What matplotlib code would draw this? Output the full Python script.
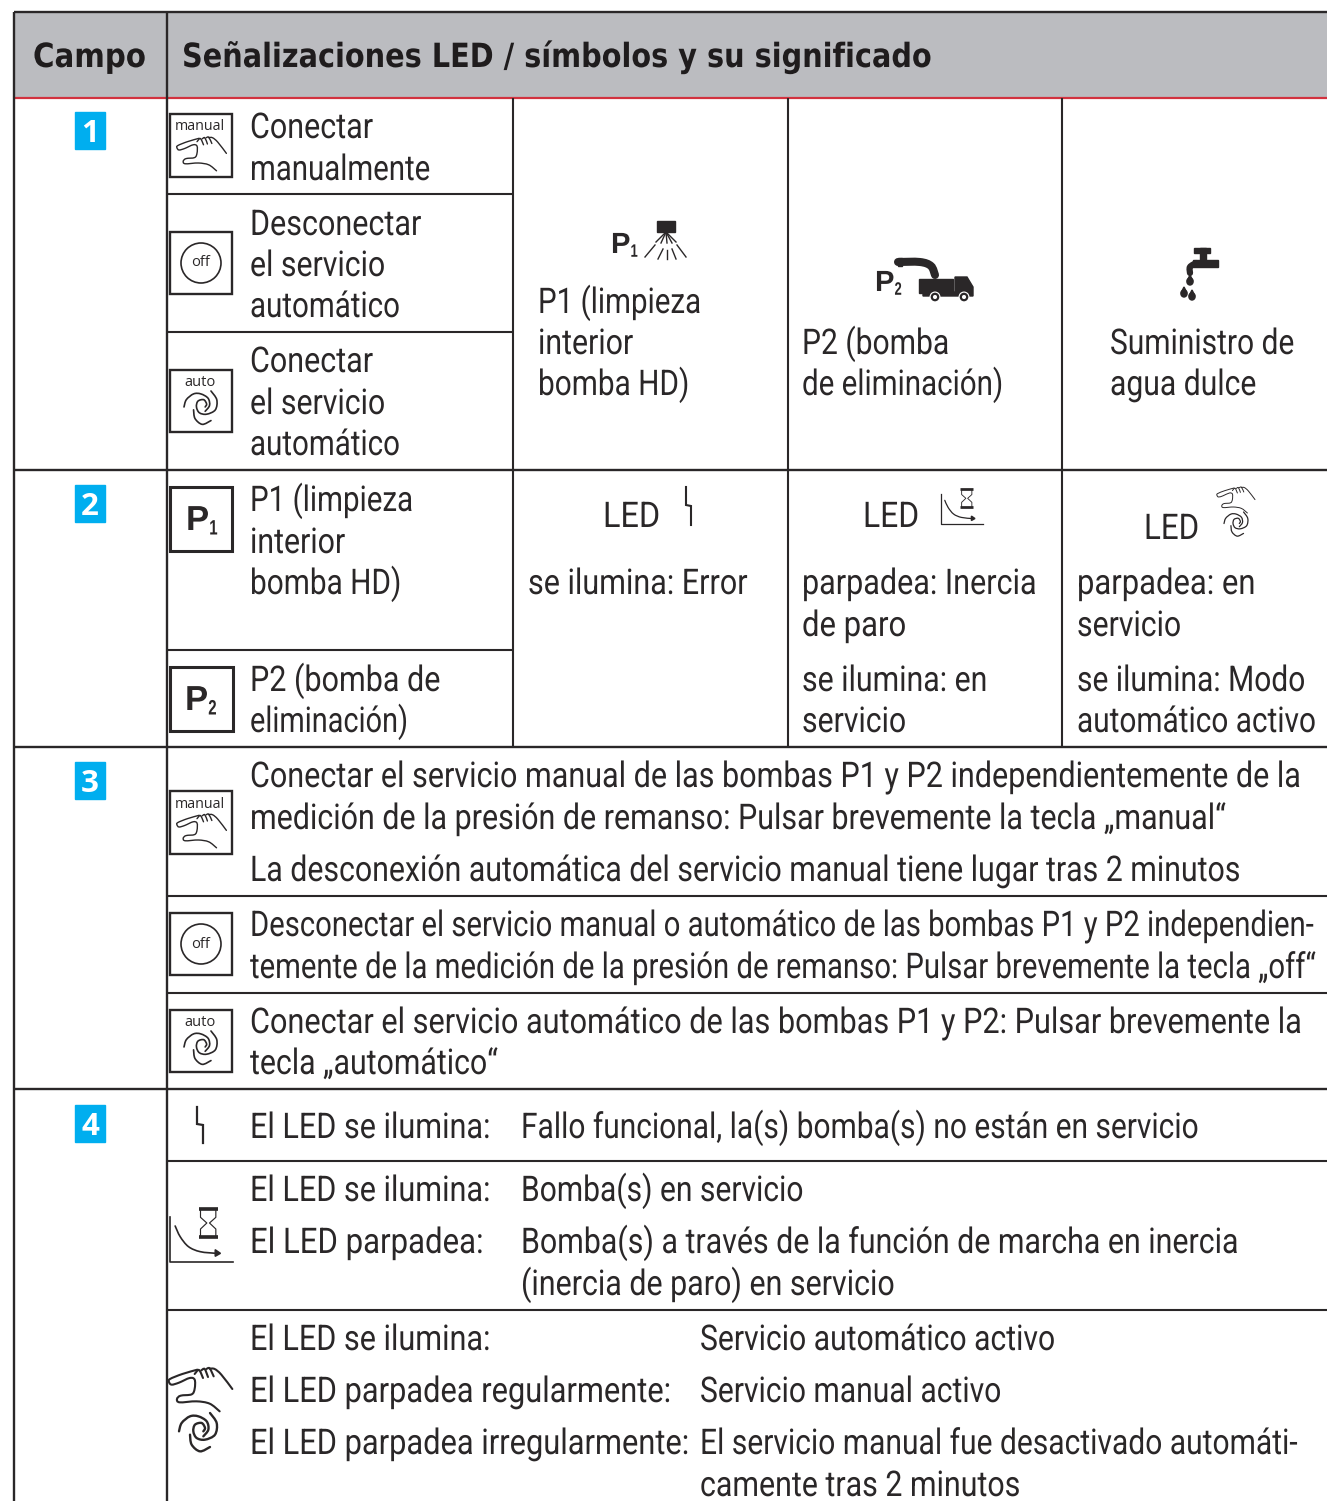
import matplotlib
matplotlib.use("Agg")
import matplotlib.pyplot as plt
import matplotlib.patheffects as pe
from matplotlib.patches import Rectangle, Circle, Ellipse, PathPatch, Polygon
from matplotlib.path import Path
from matplotlib.text import Text
from matplotlib.transforms import Affine2D, Bbox

# text of the table
header_labels = ["Campo", "Señalizaciones LED / símbolos y su significado"]
campo_labels = ["1", "2", "3", "4"]
row1_a = ["Conectar", "manualmente"]
row1_b = ["Desconectar", "el servicio", "automático"]
row1_c = ["Conectar", "el servicio", "automático"]
row1_p1 = ["P1 (limpieza", "interior", "bomba HD)"]
row1_p2 = ["P2 (bomba", "de eliminación)"]
row1_agua = ["Suministro de", "agua dulce"]
row2_p1 = ["P1 (limpieza", "interior", "bomba HD)"]
row2_p2 = ["P2 (bomba de", "eliminación)"]
row2_err = ["se ilumina: Error"]
row2_mid = ["parpadea: Inercia", "de paro", "se ilumina: en", "servicio"]
row2_right = ["parpadea: en", "servicio", "se ilumina: Modo", "automático activo"]
row3_a = ["Conectar el servicio manual de las bombas P1 y P2 independientemente de la",
          "medición de la presión de remanso: Pulsar brevemente la tecla „manual“",
          "La desconexión automática del servicio manual tiene lugar tras 2 minutos"]
row3_b = ["Desconectar el servicio manual o automático de las bombas P1 y P2 independien-",
          "temente de la medición de la presión de remanso: Pulsar brevemente la tecla „off“"]
row3_c = ["Conectar el servicio automático de las bombas P1 y P2: Pulsar brevemente la",
          "tecla „automático“"]
row4_left = ["El LED se ilumina:", "El LED se ilumina:", "El LED parpadea:"]
row4_right = ["Fallo funcional, la(s) bomba(s) no están en servicio", "Bomba(s) en servicio",
              "Bomba(s) a través de la función de marcha en inercia",
              "(inercia de paro) en servicio"]
row4_left2 = ["El LED se ilumina:", "El LED parpadea regularmente:", "El LED parpadea irregularmente:"]
row4_right2 = ["Servicio automático activo", "Servicio manual activo",
               "El servicio manual fue desactivado automáti-", "camente tras 2 minutos"]

INK = "#2a2728"
FS = 25.5

fig = plt.figure(figsize=(13.27, 15.01), dpi=100)
ax = fig.add_axes([0, 0, 1, 1])
ax.set_xlim(0, 1327)
ax.set_ylim(1501, 0)
ax.axis("off")
rend = fig.canvas.get_renderer()


# no condensed font installed: squeeze real text sideways when it is drawn
class Squeeze(pe.AbstractPathEffect):
    def __init__(self, fx):
        super().__init__()
        self.fx = fx

    def draw_path(self, renderer, gc, tpath, affine, rgbFace=None):
        renderer.draw_path(gc, tpath, Affine2D().scale(self.fx, 1) + affine, rgbFace)


class SqueezedText(Text):
    fx = 1.0

    def squeeze(self, fx):
        self.fx = fx
        self.set_path_effects([Squeeze(fx)])

    def get_window_extent(self, renderer=None, dpi=None):
        bb = super().get_window_extent(renderer, dpi)
        return Bbox.from_extents(bb.x0, bb.y0, bb.x0 + bb.width * self.fx, bb.y1)


def put(x, y, s, fx=None, right=None, **kw):
    t = SqueezedText(x, y, s, va="baseline", ha="left", **kw)
    ax.add_artist(t)
    if right is not None:
        fx = (right - x) / t.get_window_extent(rend).width
    t.squeeze(fx)


def hline(y, x0, x1=1327, lw=1.5, color=INK):
    ax.plot([x0, x1], [y, y], color=color, lw=lw, solid_capstyle="butt", zorder=3)


def vline(x, y0, y1, lw=1.5):
    ax.plot([x, x], [y0, y1], color=INK, lw=lw, solid_capstyle="butt", zorder=3)


def lines(x, ys, labels, rights):
    for y, s, r in zip(ys, labels, rights):
        put(x - 1, y + 1, s, right=r, family="Roboto", fontsize=FS, color=INK)


def smooth(pts):
    # catmull-rom through the points, as bezier segments
    verts = [pts[0]]
    codes = [Path.MOVETO]
    for i in range(len(pts) - 1):
        p0 = pts[max(i - 1, 0)]
        p1 = pts[i]
        p2 = pts[i + 1]
        p3 = pts[min(i + 2, len(pts) - 1)]
        c1 = (p1[0] + (p2[0] - p0[0]) / 6, p1[1] + (p2[1] - p0[1]) / 6)
        c2 = (p2[0] - (p3[0] - p1[0]) / 6, p2[1] - (p3[1] - p1[1]) / 6)
        verts += [c1, c2, p2]
        codes += [Path.CURVE4] * 3
    return Path(verts, codes)


def curve(pts, x0, y0, sx, sy, lw):
    q = [(x0 + a * sx, y0 + b * sy) for a, b in pts]
    ax.add_patch(PathPatch(smooth(q), fill=False, ec=INK, lw=lw, capstyle="round", zorder=4))


HAND = [
    [(190, 63), (157, 20), (137, 3), (122, 2)],
    [(85, 5), (40, 18), (3, 33), (0, 42), (8, 50), (30, 44), (62, 30), (77, 35), (77, 62),
     (68, 79), (35, 83), (24, 93), (32, 103), (82, 100), (122, 107), (152, 130)],
    [(77, 18), (90, 6), (102, 30)],
    [(97, 7), (107, 3), (117, 27)],
    [(112, 3), (122, 1), (134, 25)],
]
SWIRL = [
    [(0, 55), (8, 30), (33, 10), (58, 10), (83, 25), (88, 50), (73, 70)],
    [(93, 0), (113, 30), (108, 65), (78, 80), (53, 75), (43, 55), (48, 35), (68, 30), (78, 45), (73, 55)],
    [(93, 102), (63, 115), (38, 95), (33, 65)],
]


def hand(x0, y0, s, lw=1.1):
    for seg in HAND:
        curve(seg, x0, y0, s, s, lw)


def swirl(x0, y0, s, lw=1.3):
    for seg in SWIRL:
        curve(seg, x0, y0, s, s, lw)


def box(x0, y0, x1, y1, lw=1.7):
    ax.add_patch(Rectangle((x0, y0), x1 - x0, y1 - y0, fill=False, ec=INK, lw=lw, zorder=4))


def manual_icon(y):
    box(170, y, 232, y + 63)
    ax.text(200, y + 13, "manual", family="Open Sans", fontsize=10.3, color=INK, ha="center", va="center")
    hand(177, y + 23, 0.26, 1.0)


def off_icon(y):
    box(170, y, 232, y + 62)
    ax.add_patch(Circle((201, y + 31), 20, fill=False, ec=INK, lw=1.2, zorder=4))
    ax.text(201, y + 31, "off", family="Open Sans", fontsize=10.5, color=INK, ha="center", va="center")


def auto_icon(y):
    box(170, y, 232, y + 62)
    ax.text(200, y + 13, "auto", family="Open Sans", fontsize=10.5, color=INK, ha="center", va="center")
    swirl(184, y + 21, 0.29, 1.2)


def p_label(x, y, sub, fs, sub_fs):
    put(x, y, "P", 1.0, family="Liberation Sans", weight="bold", fontsize=fs, color=INK)
    put(x + fs * 0.93, y + fs * 0.18, sub, 0.72, family="Liberation Sans", weight="bold",
        fontsize=sub_fs, color=INK)


def bolt(x0, x1, y0, y1, y2, lw=1.5):
    ax.plot([x0, x0, x1, x1], [y0, y1, y1 + 1, y2], color=INK, lw=lw, solid_joinstyle="miter", zorder=4)


def timer(x0, y0, s, lw=1.2):
    pt = lambda a, b: (x0 + a * s, y0 + b * s)
    ax.plot(*zip(pt(0, 23), pt(0, 159), pt(190, 159)), color=INK, lw=lw, zorder=4)
    curve([(17, 51), (32, 83), (57, 113), (92, 128), (140, 133)], x0, y0, s, s, lw)
    ax.add_patch(Polygon([pt(137, 122), pt(153, 133), pt(137, 142)], color=INK, zorder=4))
    ax.plot(*zip(pt(87, 0), pt(145, 0)), color=INK, lw=lw * 2.2, solid_capstyle="butt", zorder=4)
    ax.plot(*zip(pt(87, 83), pt(145, 83)), color=INK, lw=lw * 2.2, solid_capstyle="butt", zorder=4)
    ax.plot(*zip(pt(93, 3), pt(93, 25), pt(112, 42), pt(93, 60), pt(93, 80)), color=INK, lw=lw * 0.7, zorder=4)
    ax.plot(*zip(pt(139, 3), pt(139, 25), pt(120, 42), pt(139, 60), pt(139, 80)), color=INK, lw=lw * 0.7, zorder=4)


def drop(x, y, h):
    ax.add_patch(Ellipse((x, y + h * 0.65), h * 0.62, h * 0.7, color=INK, zorder=4))
    ax.add_patch(Polygon([(x, y), (x - h * 0.28, y + h * 0.55), (x + h * 0.28, y + h * 0.55)], color=INK, zorder=4))


# header band and red rule
ax.add_patch(Rectangle((14, 12), 1313, 85, color="#bbbcc0", zorder=1))
hline(12, 14, lw=1.7)
hline(97.5, 14, lw=1.6, color="#d2323f")
put(33, 67, header_labels[0], right=146, family="DejaVu Sans", weight="bold", fontsize=24, color="#1f1c1d")
put(182, 67, header_labels[1], right=932, family="DejaVu Sans", weight="bold", fontsize=24, color="#1f1c1d")

# grid
vline(14, 12, 1501, 1.7)
vline(167, 12, 1501, 1.7)
for x in [513, 788, 1062]:
    vline(x, 98, 747)
for y in [194, 332, 650]:
    hline(y, 167, 513)
for y in [470, 747, 1089]:
    hline(y, 14, lw=1.7)
for y in [896, 993, 1161, 1310]:
    hline(y, 167)

# campo squares
for y, s in zip([112, 485, 762, 1105], campo_labels):
    ax.add_patch(Rectangle((75, y), 30, 37, color="#00aeef", zorder=2))
    ax.text(90, y + 30, s, family="Open Sans", weight="bold", fontsize=22.5, color="white",
            ha="center", va="baseline", zorder=3)

# campo 1
manual_icon(114)
off_icon(232)
auto_icon(370)
lines(251, [137, 179], row1_a, [373, 430])
lines(251, [234, 275, 316], row1_b, [421, 385, 400])
lines(251, [371, 413, 454], row1_c, [373, 385, 400])
lines(539, [312, 353, 394], row1_p1, [701, 633, 689])
lines(803, [353, 394], row1_p2, [949, 1003])
lines(1111, [353, 394], row1_agua, [1294, 1256])

p_label(611, 253, "1", 21, 13)
ax.add_patch(Rectangle((657, 221), 18, 11, color=INK, zorder=4))
for xa, ya, xb, yb in [(666, 232, 656, 242), (666, 232, 661, 243), (666, 232, 667, 243),
                       (666, 232, 672, 243), (666, 232, 676, 242), (645, 257, 655, 245),
                       (658, 259, 663, 249), (667, 259, 667, 250), (676, 259, 672, 249),
                       (686, 257, 677, 245)]:
    ax.plot([xa, xb], [ya, yb], color=INK, lw=1.0, zorder=4)

p_label(875, 291, "2", 21, 13)
curve([(898, 262), (920, 262), (931, 266), (935, 275)], 0, 0, 1, 1, 5.8)
ax.add_patch(Rectangle((898, 258), 4, 8, color=INK, zorder=4))
ax.add_patch(Rectangle((919, 279), 34, 14, color=INK, zorder=4))
ax.add_patch(Polygon([(955, 277), (967, 277), (973, 287), (973, 296), (923, 296), (923, 292), (955, 292)],
                     color=INK, zorder=4))
for x in [935, 964]:
    ax.add_patch(Circle((x, 297), 5.5, fc="white", ec="none", zorder=5))
    ax.add_patch(Circle((x, 297), 3.2, fc="white", ec=INK, lw=1.6, zorder=6))

ax.add_patch(Rectangle((1194, 248), 16, 4.5, color=INK, zorder=4))
ax.add_patch(Rectangle((1200, 248), 6, 14, color=INK, zorder=4))
ax.add_patch(Rectangle((1193, 260), 25, 6.5, color=INK, zorder=4))
curve([(1190, 273), (1190, 267), (1196, 263)], 0, 0, 1, 1, 4.5)
drop(1190, 275, 10)
drop(1184, 287, 10)
drop(1192, 290, 10)

# campo 2
box(170, 487, 232, 551, 2.2)
box(170, 667, 233, 731, 2.2)
p_label(186, 530, "1", 25, 15)
p_label(185, 710, "2", 25, 15)
lines(251, [510, 552, 593], row2_p1, [413, 345, 401])
lines(251, [690, 731], row2_p2, [440, 408])
lines(604, [526], ["LED"], [660])
lines(864, [526], ["LED"], [919])
lines(1145, [538], ["LED"], [1199])
bolt(686, 691, 487, 505, 525)
timer(941, 489, 0.222, 0.9)
hand(1217, 487, 0.2, 0.7)
swirl(1224, 512, 0.21, 0.9)
lines(529, [593], row2_err, [747])
lines(803, [593, 635, 690, 731], row2_mid, [1036, 906, 987, 906])
lines(1078, [593, 635, 690, 731], row2_right, [1255, 1181, 1305, 1316])

# campo 3
manual_icon(791)
off_icon(913)
auto_icon(1010)
lines(251, [786, 828, 880], row3_a, [1299, 1224, 1239])
lines(251, [935, 977], row3_b, [1312, 1314])
lines(251, [1032, 1073], row3_c, [1300, 498])

# campo 4
bolt(197, 203, 1107, 1124, 1143, 1.6)
timer(169.5, 1209, 1 / 3, 1.2)
hand(169, 1368, 1 / 3, 1.5)
swirl(179, 1413, 1 / 3, 1.7)
lines(251, [1137, 1200, 1252], row4_left, [490, 490, 483])
lines(522, [1137, 1200, 1252, 1294], row4_right, [1198, 803, 1237, 894])
lines(251, [1349, 1401, 1453], row4_left2, [490, 670, 688])
lines(701, [1349, 1401, 1453, 1495], row4_right2, [1055, 1001, 1297, 1020])

fig.savefig("out.png", dpi=100)
